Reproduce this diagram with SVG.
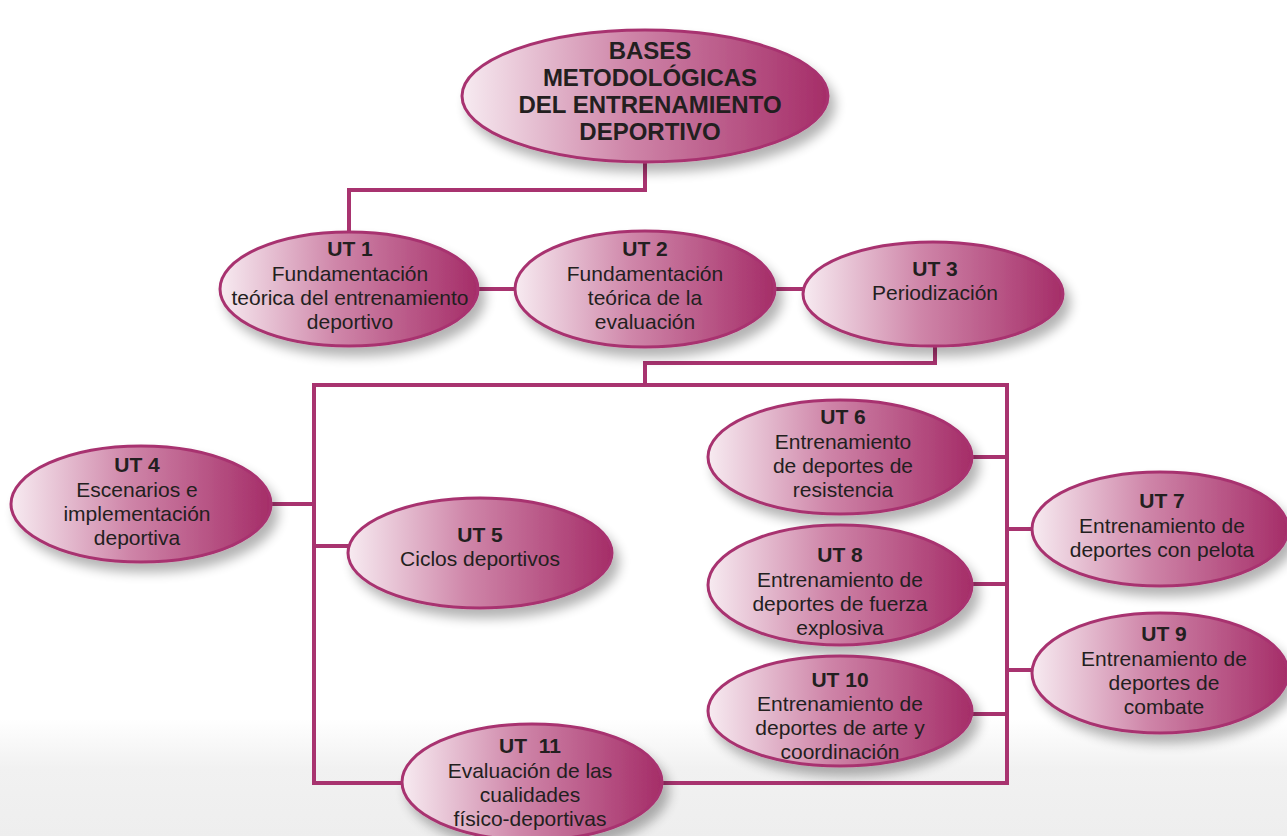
<svg xmlns="http://www.w3.org/2000/svg" width="1287" height="836" viewBox="0 0 1287 836">
<defs>
<linearGradient id="fillG" x1="0" y1="0" x2="1" y2="0">
<stop offset="0" stop-color="#f7ebf1"/>
<stop offset="0.45" stop-color="#cf86a9"/>
<stop offset="1" stop-color="#a52d68"/>
</linearGradient>
<linearGradient id="bgG" x1="0" y1="0" x2="0" y2="1">
<stop offset="0" stop-color="#ffffff"/>
<stop offset="0.86" stop-color="#ffffff"/>
<stop offset="0.92" stop-color="#f1f1f1"/>
<stop offset="1" stop-color="#eeeeee"/>
</linearGradient>
<filter id="sh" x="-20%" y="-20%" width="150%" height="160%">
<feGaussianBlur in="SourceAlpha" stdDeviation="6"/>
<feOffset dx="6" dy="9" result="b"/>
<feComponentTransfer><feFuncA type="linear" slope="0.3"/></feComponentTransfer>
<feMerge><feMergeNode/><feMergeNode in="SourceGraphic"/></feMerge>
</filter>
</defs>
<style>
.n ellipse{fill:url(#fillG);stroke:#a8336f;stroke-width:3;filter:url(#sh)}
.c{fill:none;stroke:#a8336f;stroke-width:4}
text{font-family:"Liberation Sans",Arial,sans-serif;fill:#231f20;text-anchor:middle}
.t{font-size:24px;font-weight:bold}
.h{font-size:21px;font-weight:bold}
.b{font-size:21px}
</style>
<rect width="1287" height="836" fill="url(#bgG)"/>
<g id="connectors">
<polyline class="c" points="645,160 645,190 349,190 349,234"/>
<line class="c" x1="476" y1="289" x2="517" y2="289"/>
<line class="c" x1="774" y1="289" x2="805" y2="289"/>
<polyline class="c" points="935,344 935,363 645,363 645,385"/>
<polyline class="c" points="402,783 314,783 314,385 1007,385 1007,783 660,783"/>
<line class="c" x1="270" y1="504" x2="314" y2="504"/>
<line class="c" x1="314" y1="546" x2="350" y2="546"/>
<line class="c" x1="970" y1="457" x2="1007" y2="457"/>
<line class="c" x1="1007" y1="529" x2="1034" y2="529"/>
<line class="c" x1="970" y1="584" x2="1007" y2="584"/>
<line class="c" x1="1007" y1="670" x2="1034" y2="670"/>
<line class="c" x1="970" y1="714" x2="1007" y2="714"/>
</g>
<g id="root" class="n">
<ellipse cx="645" cy="96" rx="183" ry="66"/>
<text class="t" x="650" y="59">BASES</text>
<text class="t" x="650" y="86">METODOLÓGICAS</text>
<text class="t" x="650" y="113">DEL ENTRENAMIENTO</text>
<text class="t" x="650" y="140">DEPORTIVO</text>
</g>
<g id="ut1" class="n">
<ellipse cx="349" cy="289" rx="129" ry="57"/>
<text class="h" x="350" y="256">UT 1</text>
<text class="b" x="350" y="281">Fundamentación</text>
<text class="b" x="350" y="305">teórica del entrenamiento</text>
<text class="b" x="350" y="329">deportivo</text>
</g>
<g id="ut2" class="n">
<ellipse cx="645" cy="289" rx="130" ry="58"/>
<text class="h" x="645" y="256">UT 2</text>
<text class="b" x="645" y="281">Fundamentación</text>
<text class="b" x="645" y="305">teórica de la</text>
<text class="b" x="645" y="329">evaluación</text>
</g>
<g id="ut3" class="n">
<ellipse cx="933" cy="294" rx="130" ry="52"/>
<text class="h" x="935" y="276">UT 3</text>
<text class="b" x="935" y="300">Periodización</text>
</g>
<g id="ut4" class="n">
<ellipse cx="141" cy="504" rx="130" ry="58"/>
<text class="h" x="137" y="472">UT 4</text>
<text class="b" x="137" y="497">Escenarios e</text>
<text class="b" x="137" y="521">implementación</text>
<text class="b" x="137" y="545">deportiva</text>
</g>
<g id="ut5" class="n">
<ellipse cx="480" cy="553" rx="132" ry="55"/>
<text class="h" x="480" y="542">UT 5</text>
<text class="b" x="480" y="566">Ciclos deportivos</text>
</g>
<g id="ut6" class="n">
<ellipse cx="840" cy="457" rx="132" ry="57"/>
<text class="h" x="843" y="424">UT 6</text>
<text class="b" x="843" y="449">Entrenamiento</text>
<text class="b" x="843" y="473">de deportes de</text>
<text class="b" x="843" y="497">resistencia</text>
</g>
<g id="ut7" class="n">
<ellipse cx="1160" cy="529" rx="128" ry="57"/>
<text class="h" x="1162" y="508">UT 7</text>
<text class="b" x="1162" y="533">Entrenamiento de</text>
<text class="b" x="1162" y="557">deportes con pelota</text>
</g>
<g id="ut8" class="n">
<ellipse cx="840" cy="585" rx="132" ry="60"/>
<text class="h" x="840" y="562">UT 8</text>
<text class="b" x="840" y="587">Entrenamiento de</text>
<text class="b" x="840" y="611">deportes de fuerza</text>
<text class="b" x="840" y="635">explosiva</text>
</g>
<g id="ut9" class="n">
<ellipse cx="1160" cy="673" rx="128" ry="60"/>
<text class="h" x="1164" y="641">UT 9</text>
<text class="b" x="1164" y="666">Entrenamiento de</text>
<text class="b" x="1164" y="690">deportes de</text>
<text class="b" x="1164" y="714">combate</text>
</g>
<g id="ut10" class="n">
<ellipse cx="840" cy="711" rx="132" ry="55"/>
<text class="h" x="840" y="687">UT 10</text>
<text class="b" x="840" y="711">Entrenamiento de</text>
<text class="b" x="840" y="735">deportes de arte y</text>
<text class="b" x="840" y="759">coordinación</text>
</g>
<g id="ut11" class="n">
<ellipse cx="532" cy="782" rx="130" ry="58"/>
<text class="h" x="530" y="753" xml:space="preserve">UT  11</text>
<text class="b" x="530" y="778">Evaluación de las</text>
<text class="b" x="530" y="802">cualidades</text>
<text class="b" x="530" y="826">físico-deportivas</text>
</g>
</svg>
